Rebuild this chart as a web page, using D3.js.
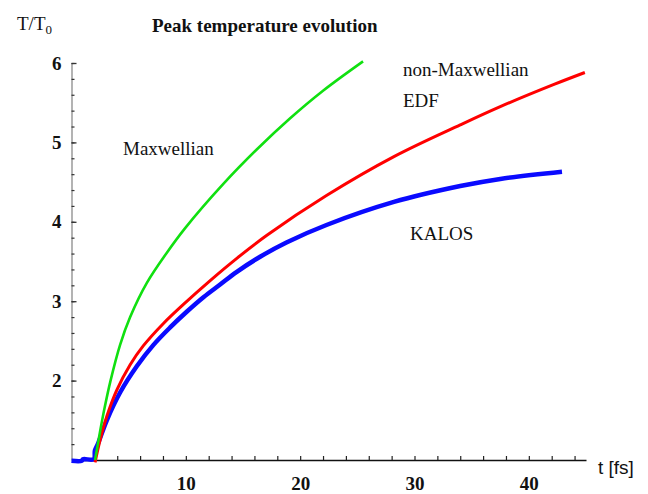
<!DOCTYPE html>
<html>
<head>
<meta charset="utf-8">
<script src="https://cdn.jsdelivr.net/npm/d3@7"></script>
<style>
  html, body { margin: 0; padding: 0; background: #fff; }
  svg { display: block; }
</style>
</head>
<body>
<div class="canvas"></div>
<script>
// values (t in fs, T in units of T0)
const tMaxwellian = [2.06, 2.5, 2.9, 3.4, 4.25, 5.13, 6.59, 8.34, 9.94, 13.3, 16.2, 19.1, 22.0, 25.5];
const TMaxwellian = [1.0, 1.36, 1.66, 1.99, 2.45, 2.8, 3.23, 3.61, 3.92, 4.48, 4.91, 5.3, 5.65, 6.02];

const tEDF = [2.06, 2.5, 3.09, 3.96, 5.13, 6.29, 8.04, 9.79, 12.13, 14.46, 17.09, 22.3, 28.2, 34.0, 37.5, 42.2, 44.9];
const TEDF = [0.97, 1.25, 1.55, 1.88, 2.2, 2.44, 2.72, 2.96, 3.26, 3.54, 3.83, 4.33, 4.82, 5.22, 5.45, 5.73, 5.88];

const tKalos = [0, 0.9, 1.0, 1.95, 2.05, 2.3, 3.09, 4.25, 5.71, 7.17, 8.63, 10.1, 11.54, 13.0, 14.46, 16.5, 18.8, 22.3, 28.2, 34.0, 37.5, 42.9];
const TKalos = [0.99, 0.99, 1.01, 1.01, 1.12, 1.2, 1.5, 1.85, 2.18, 2.45, 2.67, 2.87, 3.05, 3.21, 3.37, 3.56, 3.74, 3.96, 4.25, 4.45, 4.54, 4.63];

const xMinorTicks = d3.range(2, 45, 2);
const xLabelTicks = [10, 20, 30, 40];
const yMinorTicks = d3.range(1.2, 6.01, 0.2).map((d) => +d.toFixed(1));
const yLabelTicks = [2, 3, 4, 5, 6];

const svgWidth = 648;
const svgHeight = 494;

const svg = d3.select('.canvas').append('svg')
  .attr('width', svgWidth)
  .attr('height', svgHeight);

const xScale = d3.scaleLinear().domain([0, 45]).range([71.5, 586]);
const yScale = d3.scaleLinear().domain([1, 6]).range([460, 63]);

const serif = '"Liberation Serif", "Times New Roman", serif';

// y axis: gray line, ticks pointing inwards
const yAxisGroup = svg.append('g').attr('transform', `translate(${xScale(0)},0)`);
yAxisGroup.call(d3.axisLeft(yScale).tickValues(yMinorTicks).tickSize(-3).tickSizeOuter(0).tickFormat(''));
yAxisGroup.select('.domain').attr('stroke', '#8a8a8a').attr('stroke-width', 1.3);
yAxisGroup.selectAll('.tick line').attr('stroke', '#333').attr('stroke-width', 1.2);

const yLabels = svg.append('g').attr('transform', `translate(${xScale(0)},0)`);
yLabels.call(d3.axisLeft(yScale).tickValues(yLabelTicks).tickSize(-5).tickSizeOuter(0).tickPadding(10).tickFormat(d3.format('d')));
yLabels.select('.domain').remove();
yLabels.selectAll('.tick line').attr('stroke', '#333').attr('stroke-width', 1.3);
yLabels.selectAll('text')
  .attr('font-family', serif)
  .attr('font-weight', 'bold')
  .attr('font-size', '19px')
  .attr('fill', '#111');

// x axis
const xAxisGroup = svg.append('g').attr('transform', `translate(0,${yScale(1)})`);
xAxisGroup.call(d3.axisBottom(xScale).tickValues(xMinorTicks).tickSize(-4).tickSizeOuter(0).tickFormat(''));
xAxisGroup.select('.domain').attr('stroke', '#111').attr('stroke-width', 1.6);
xAxisGroup.selectAll('.tick line').attr('stroke', '#222').attr('stroke-width', 1.2);

const xLabels = svg.append('g').attr('transform', `translate(0,${yScale(1)})`);
xLabels.call(d3.axisBottom(xScale).tickValues(xLabelTicks).tickSize(0).tickPadding(17));
xLabels.select('.domain').remove();
xLabels.selectAll('text')
  .attr('font-family', serif)
  .attr('font-weight', 'bold')
  .attr('font-size', '19px')
  .attr('fill', '#111');

// curves
const line = d3.line()
  .x((d) => xScale(d[0]))
  .y((d) => yScale(d[1]))
  .curve(d3.curveCatmullRom.alpha(0.5));

const series = [
  { t: tKalos, T: TKalos, color: '#0a0aff', width: 4.5 },
  { t: tEDF, T: TEDF, color: '#ff0000', width: 3 },
  { t: tMaxwellian, T: TMaxwellian, color: '#10e010', width: 2.6 }
];

series.forEach((s) => {
  svg.append('path')
    .datum(s.t.map((t, i) => [t, s.T[i]]))
    .attr('d', line)
    .attr('fill', 'none')
    .attr('stroke', s.color)
    .attr('stroke-width', s.width)
    .attr('stroke-linejoin', 'round');
});

// texts
svg.append('text')
  .attr('x', 152).attr('y', 32)
  .attr('font-family', serif)
  .attr('font-weight', 'bold')
  .attr('font-size', '19px')
  .attr('fill', '#111')
  .text('Peak temperature evolution');

const yTitle = svg.append('text')
  .attr('x', 17).attr('y', 30)
  .attr('font-family', serif)
  .attr('font-size', '19px')
  .attr('fill', '#111');
yTitle.append('tspan').text('T/T');
yTitle.append('tspan').attr('dy', 4).attr('font-size', '13px').text('0');

svg.append('text')
  .attr('x', 598).attr('y', 474)
  .attr('font-family', '"Liberation Sans", Arial, sans-serif')
  .attr('font-size', '19px')
  .attr('fill', '#111')
  .text('t [fs]');

const curveLabels = [
  { text: 'Maxwellian', x: 123, y: 155 },
  { text: 'non-Maxwellian', x: 403, y: 76 },
  { text: 'EDF', x: 403, y: 107 },
  { text: 'KALOS', x: 410, y: 240 }
];
svg.selectAll('.curve-label')
  .data(curveLabels)
  .enter()
  .append('text')
  .attr('class', 'curve-label')
  .attr('x', (d) => d.x)
  .attr('y', (d) => d.y)
  .attr('font-family', serif)
  .attr('font-size', '19px')
  .attr('fill', '#111')
  .text((d) => d.text);
</script>
</body>
</html>
